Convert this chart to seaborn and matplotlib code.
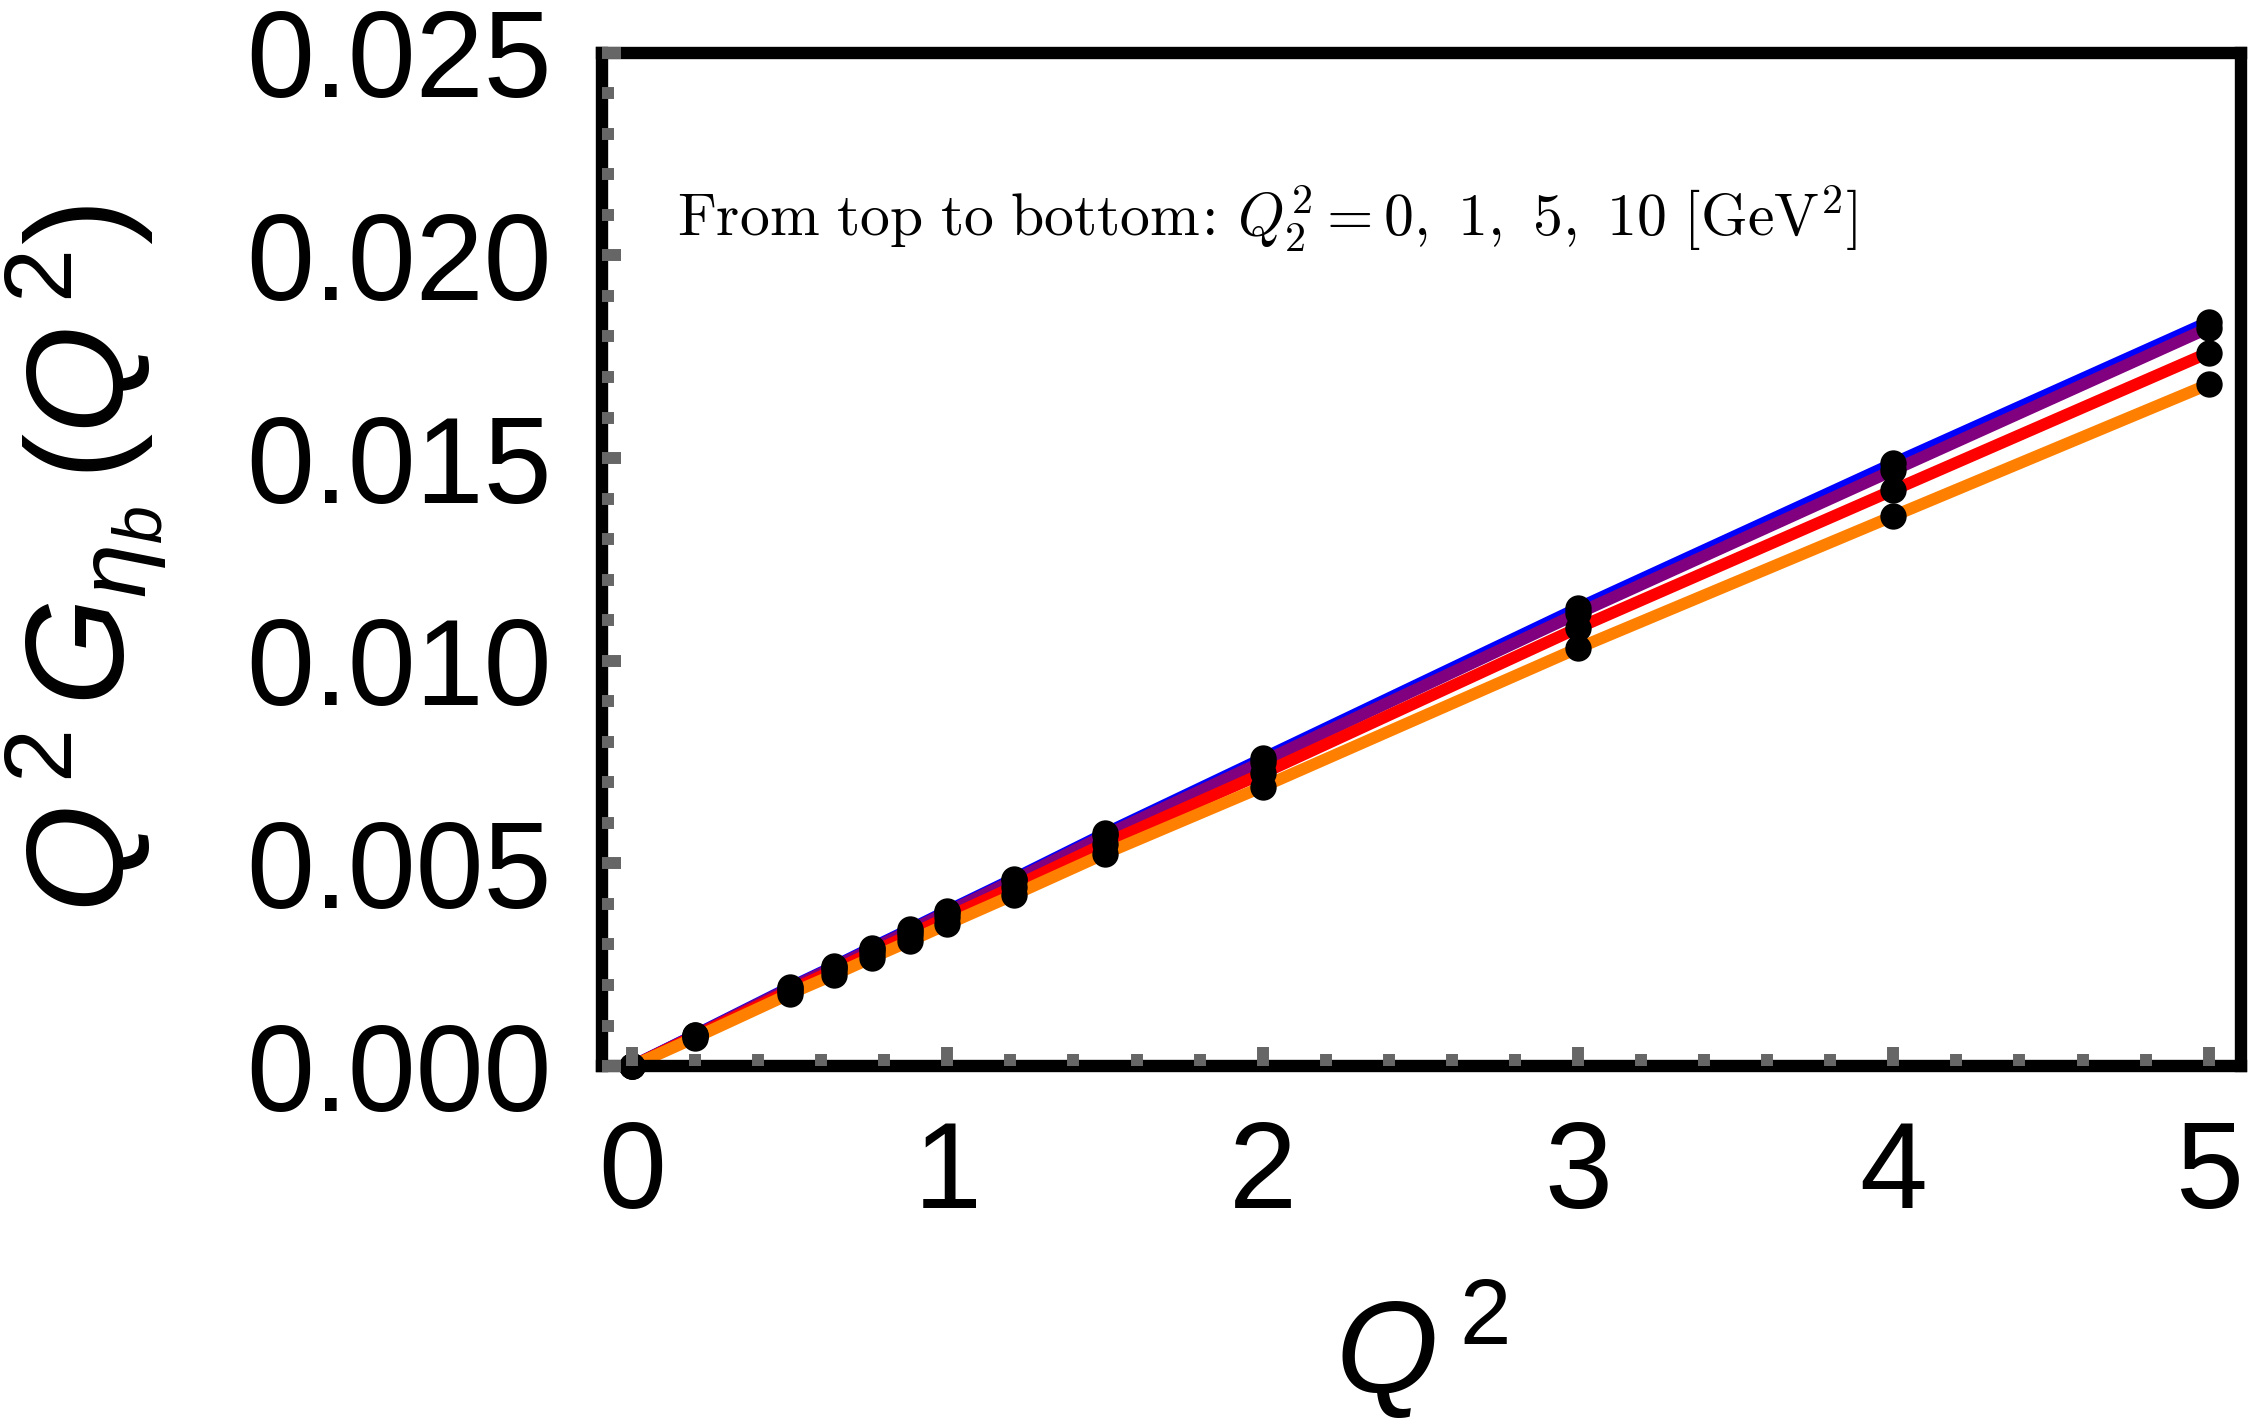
import numpy as np
import pandas as pd
import matplotlib
matplotlib.use("Agg")
import matplotlib.pyplot as plt
import seaborn as sns

# Q^2 grid of the computed points
q2 = [0.0, 0.2, 0.5, 0.64, 0.76, 0.88, 1.0, 1.21, 1.5, 2.0, 3.0, 4.0, 5.0]

# Q^2 G(Q^2) for Q2^2 = 0, 1, 5, 10 GeV^2
g_q0 = [0.0, 0.00077, 0.00194, 0.00246, 0.00292, 0.00337, 0.00383, 0.00462, 0.00574, 0.00759, 0.01130, 0.01487, 0.01836]
g_q1 = [0.0, 0.00076, 0.00192, 0.00244, 0.00289, 0.00334, 0.00380, 0.00458, 0.00569, 0.00751, 0.01117, 0.01470, 0.01821]
g_q5 = [0.0, 0.00074, 0.00186, 0.00236, 0.00280, 0.00323, 0.00367, 0.00442, 0.00549, 0.00722, 0.01081, 0.01421, 0.01760]
g_q10 = [0.0, 0.00070, 0.00178, 0.00225, 0.00267, 0.00308, 0.00350, 0.00422, 0.00524, 0.00689, 0.01031, 0.01357, 0.01682]

series_names = ["0", "1", "5", "10"]
series_colors = ["#0000ff", "#800080", "#ff0000", "#ff8000"]

x_ticks = [0, 1, 2, 3, 4, 5]
x_tick_labels = ["0", "1", "2", "3", "4", "5"]
y_ticks = [0.0, 0.005, 0.010, 0.015, 0.020, 0.025]
y_tick_labels = ["0.000", "0.005", "0.010", "0.015", "0.020", "0.025"]

# mathtext pads ':' like a relation, pull it back with \!
note = r"$\mathrm{From\ top\ to\ bottom}\!:\,Q_2^2 = 0,\ 1,\ 5,\ 10\ [\mathrm{GeV}^2]$"


def build_frame():
    rows = []
    for name, vals in zip(series_names, [g_q0, g_q1, g_q5, g_q10]):
        for x, y in zip(q2, vals):
            rows.append({"q2": x, "val": y, "series": name})
    return pd.DataFrame(rows)


def main():
    sns.set_style("white")
    plt.rcParams["font.family"] = ["Liberation Sans", "DejaVu Sans"]
    plt.rcParams["mathtext.fontset"] = "custom"
    plt.rcParams["mathtext.rm"] = "Liberation Sans"
    plt.rcParams["mathtext.it"] = "Liberation Sans:italic"
    plt.rcParams["text.color"] = "black"
    plt.rcParams["axes.labelcolor"] = "black"
    plt.rcParams["xtick.labelcolor"] = "black"
    plt.rcParams["ytick.labelcolor"] = "black"

    df = build_frame()

    fig = plt.figure(figsize=(22.49, 14.18), dpi=100)
    ax = fig.add_axes([0.2677, 0.2482, 0.7288, 0.7146])

    sns.lineplot(data=df, x="q2", y="val", hue="series", hue_order=series_names,
                 palette=dict(zip(series_names, series_colors)), linewidth=8.5,
                 solid_capstyle="butt", legend=False, ax=ax, zorder=2)
    sns.scatterplot(data=df, x="q2", y="val", color="black", s=360, linewidth=0,
                    legend=False, ax=ax, zorder=3, clip_on=False)

    ax.set_xlim(-0.095, 5.103)
    ax.set_ylim(0, 0.025)

    ax.set_xticks(x_ticks)
    ax.set_xticklabels(x_tick_labels)
    ax.set_xticks(np.arange(0, 5.01, 0.2), minor=True)
    ax.set_yticks(y_ticks)
    ax.set_yticklabels(y_tick_labels)
    ax.set_yticks(np.arange(0, 0.0251, 0.001), minor=True)

    ax.tick_params(which="both", direction="in", color="#666666", width=8.6,
                   labelsize=88, labelcolor="black",
                   bottom=True, left=True, top=False, right=False)
    ax.tick_params(which="major", length=14)
    ax.tick_params(which="minor", length=8.6)
    ax.tick_params(axis="y", pad=36)
    ax.tick_params(axis="x", pad=38)

    for sp in ax.spines.values():
        sp.set_visible(True)
        sp.set_color("black")
        sp.set_linewidth(8.9)
        sp.set_zorder(2.4)
    ax.xaxis.set_zorder(4)
    ax.yaxis.set_zorder(4)

    ax.set_xlabel(r"$Q^{\,2}$", fontsize=95, labelpad=32)
    ax.set_ylabel(r"$Q^{\,2}\,G_{\eta_{b}}\,(Q^{\,2})$", fontsize=100, labelpad=56)

    ax.text(0.046, 0.818, note, transform=ax.transAxes, fontsize=43,
            math_fontfamily="cm", color="black", ha="left", va="baseline")

    fig.savefig("out.png", dpi=100)


if __name__ == "__main__":
    main()
